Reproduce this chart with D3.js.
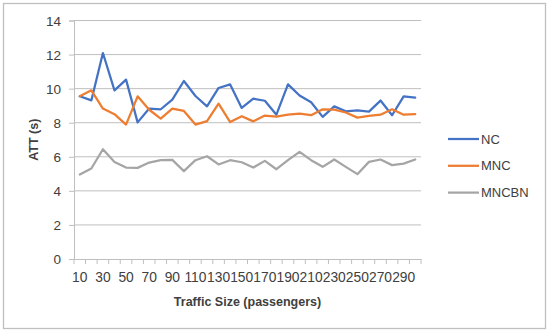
<!DOCTYPE html>
<html>
<head>
<script src="https://d3js.org/d3.v7.min.js"></script>
<style>
  body { margin: 0; background: #fff; }
  text { font-family: "Liberation Sans", Arial, sans-serif; fill: #404040; }
</style>
</head>
<body>
<div id="chart"></div>
<script>
// traffic size categories (passengers)
var sizes = [10, 20, 30, 40, 50, 60, 70, 80, 90, 100, 110, 120, 130, 140, 150,
             160, 170, 180, 190, 200, 210, 220, 230, 240, 250, 260, 270, 280, 290, 300];

var nc = [9.55, 9.31, 12.09, 9.9, 10.53, 8.02, 8.83, 8.79, 9.36, 10.45, 9.57, 8.96, 10.04, 10.25, 8.87,
          9.41, 9.29, 8.47, 10.25, 9.6, 9.2, 8.34, 8.96, 8.67, 8.73, 8.65, 9.3, 8.44, 9.55, 9.47];
var mnc = [9.55, 9.9, 8.83, 8.5, 7.89, 9.55, 8.76, 8.24, 8.83, 8.69, 7.89, 8.09, 9.12, 8.04, 8.38,
           8.08, 8.42, 8.36, 8.47, 8.53, 8.44, 8.79, 8.77, 8.6, 8.3, 8.4, 8.47, 8.79, 8.47, 8.5];
var mncbn = [4.96, 5.31, 6.44, 5.7, 5.37, 5.35, 5.66, 5.8, 5.82, 5.16, 5.8, 6.03, 5.55, 5.8, 5.68,
             5.37, 5.76, 5.27, 5.8, 6.29, 5.8, 5.41, 5.84, 5.41, 4.98, 5.7, 5.84, 5.51, 5.6, 5.84];

var seriesNames = ["NC", "MNC", "MNCBN"];
var seriesColors = ["#4472c4", "#ed7d31", "#a5a5a5"];
var yTicks = [0, 2, 4, 6, 8, 10, 12, 14];

var W = 550, H = 333;
var plot = {left: 74, right: 421, top: 20.5, bottom: 259};

var svg = d3.select("#chart").append("svg")
  .attr("width", W)
  .attr("height", H);

// chart border
svg.append("rect")
  .attr("x", 3.5).attr("y", 3.5)
  .attr("width", 542).attr("height", 325)
  .attr("fill", "#fff")
  .attr("stroke", "#bfbfbf")
  .attr("stroke-width", 1.3);

var x = d3.scaleBand().domain(sizes).range([plot.left, plot.right]);
var y = d3.scaleLinear().domain([0, 14]).range([plot.bottom, plot.top]);

// gridlines + y ticks
var yAxis = svg.append("g")
  .attr("transform", "translate(" + plot.left + ",0)")
  .call(d3.axisLeft(y).tickValues(yTicks).tickSize(5).tickPadding(8));
yAxis.select(".domain").attr("stroke", "#bfbfbf");
yAxis.selectAll(".tick line").attr("stroke", "#bfbfbf");
yAxis.selectAll(".tick text")
  .style("font-size", "13.5px")
  .attr("fill", "#404040")
  .attr("dy", "0.35em");

svg.append("g")
  .selectAll("line")
  .data(yTicks.filter(function(d) { return d > 0; }))
  .enter().append("line")
  .attr("x1", plot.left).attr("x2", plot.right)
  .attr("y1", function(d) { return y(d); })
  .attr("y2", function(d) { return y(d); })
  .attr("stroke", "#bfbfbf")
  .attr("stroke-width", 1);

// x axis: labels every other category, ticks between categories
var xAxis = svg.append("g")
  .attr("transform", "translate(0," + plot.bottom + ")")
  .call(d3.axisBottom(x).tickSize(0).tickPadding(13)
    .tickFormat(function(d, i) { return i % 2 === 0 ? d : ""; }));
xAxis.select(".domain").attr("stroke", "#bfbfbf");
xAxis.selectAll(".tick text")
  .style("font-size", "13.8px")
  .attr("fill", "#404040");

var edges = sizes.map(function(d) { return x(d); }).concat([x.range()[1]]);
svg.append("g")
  .selectAll("line")
  .data(edges)
  .enter().append("line")
  .attr("x1", function(d) { return d; })
  .attr("x2", function(d) { return d; })
  .attr("y1", plot.bottom)
  .attr("y2", plot.bottom + 5)
  .attr("stroke", "#bfbfbf");

// lines
var line = d3.line()
  .x(function(d, i) { return x(sizes[i]) + x.bandwidth() / 2; })
  .y(function(d) { return y(d); });

[nc, mnc, mncbn].forEach(function(vals, k) {
  svg.append("path")
    .datum(vals)
    .attr("d", line)
    .attr("fill", "none")
    .attr("stroke", seriesColors[k])
    .attr("stroke-width", 2.25)
    .attr("stroke-linejoin", "round")
    .attr("stroke-linecap", "round");
});

// axis titles
svg.append("text")
  .attr("x", (plot.left + plot.right) / 2)
  .attr("y", 306)
  .attr("text-anchor", "middle")
  .style("font-size", "12.5px")
  .style("font-weight", "bold")
  .text("Traffic Size (passengers)");

svg.append("text")
  .attr("transform", "translate(38," + ((plot.top + plot.bottom) / 2) + ") rotate(-90)")
  .attr("text-anchor", "middle")
  .style("font-size", "12.5px")
  .style("font-weight", "bold")
  .text("ATT (s)");

// legend
var legend = svg.append("g")
  .selectAll("g")
  .data(seriesNames)
  .enter().append("g")
  .attr("transform", function(d, i) { return "translate(448," + (139 + i * 26.8) + ")"; });

legend.append("line")
  .attr("x1", 0).attr("x2", 31)
  .attr("stroke", function(d, i) { return seriesColors[i]; })
  .attr("stroke-width", 2.25);

legend.append("text")
  .attr("x", 33)
  .attr("dy", "0.36em")
  .style("font-size", "13px")
  .text(function(d) { return d; });
</script>
</body>
</html>
